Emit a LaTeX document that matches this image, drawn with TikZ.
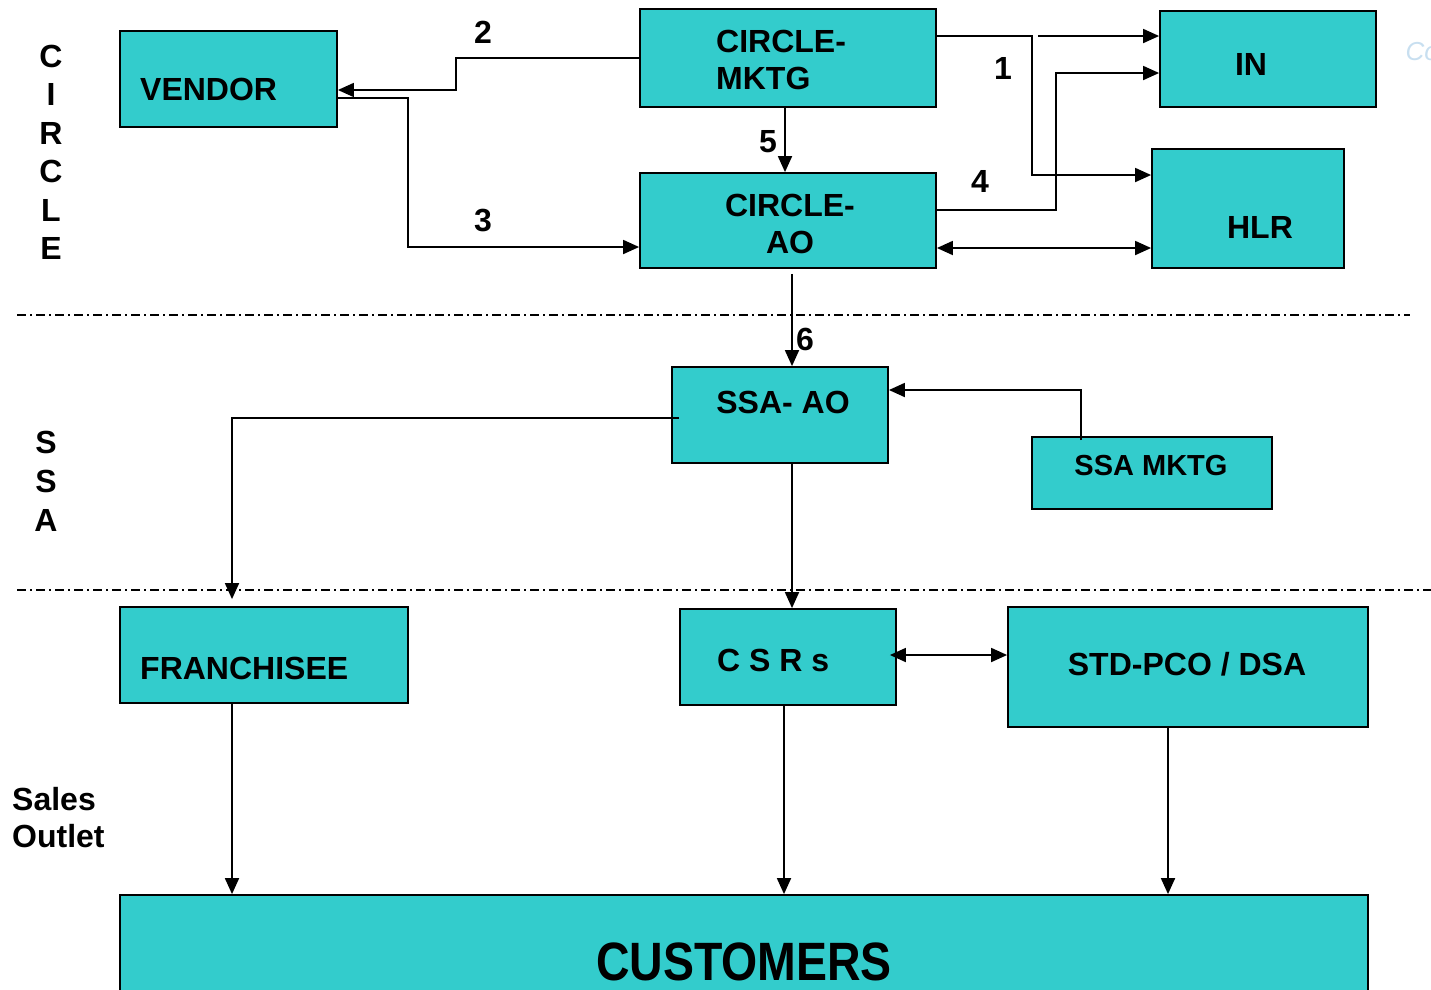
\documentclass[tikz,border=0pt]{standalone}
\usepackage{fontspec}
\setmainfont{Liberation Sans}
\usetikzlibrary{arrows.meta}
\definecolor{boxteal}{HTML}{33CCCC}
\definecolor{wmark}{HTML}{C8DFF0}

\begin{document}
\begin{tikzpicture}[x=1pt,y=-1pt,
    box/.style={draw, fill=boxteal, line width=1.8pt, inner sep=0pt},
    txt/.style={font=\bfseries\fontsize{32}{37}\selectfont, inner sep=0pt},
    arr/.style={line width=1.8pt, -{Triangle[length=16pt,width=14pt]}},
    dbl/.style={line width=1.8pt, {Triangle[length=16pt,width=14pt]}-{Triangle[length=16pt,width=14pt]}},
    sep/.style={line width=1.3pt, dash pattern=on 9pt off 4pt on 2pt off 4pt}]

  \useasboundingbox (0,0) rectangle (1431,989);

  % level separators
  \draw[sep] (17,315) -- (1410,315);
  \draw[sep] (17,590) -- (1431,590);

  \begin{scope}[every node/.style={box}]
    \node[minimum width=217pt,  minimum height=96pt]  (vendor)  at (228.5,79)  {};
    \node[minimum width=296pt,  minimum height=98pt]  (mktg)    at (788,58)    {};
    \node[minimum width=296pt,  minimum height=95pt]  (ao)      at (788,220.5) {};
    \node[minimum width=216pt,  minimum height=96pt]  (in)      at (1268,59)   {};
    \node[minimum width=192pt,  minimum height=119pt] (hlr)     at (1248,208.5){};
    \node[minimum width=216pt,  minimum height=96pt]  (ssaao)   at (780,415)   {};
    \node[minimum width=240pt,  minimum height=72pt]  (ssamktg) at (1152,473)  {};
    \node[minimum width=288pt,  minimum height=96pt]  (fran)    at (264,655)   {};
    \node[minimum width=216pt,  minimum height=96pt]  (csrs)    at (788,657)   {};
    \node[minimum width=360pt,  minimum height=120pt] (std)     at (1188,667)  {};
    \node[minimum width=1248pt, minimum height=145pt] (cust)    at (744,967.5) {};
  \end{scope}

  \begin{scope}[every node/.style={txt}]
    \node[anchor=base west] (vendor-t) at (140,100) {VENDOR};
    \node[anchor=west, align=left] (mktg-t) at (716,59.5) {CIRCLE-\\MKTG};
    \node[align=center] (ao-t) at (790,223.5) {CIRCLE-\\AO};
    \node[anchor=base] (in-t) at (1251,75.5) {IN};
    \node[anchor=base] (hlr-t) at (1260,238.5) {HLR};
    \node[anchor=base] (ssaao-t) at (783,413.5) {SSA- AO};
    \node[anchor=base, font=\bfseries\fontsize{29}{34}\selectfont] (ssamktg-t) at (1151,475.5) {SSA MKTG};
    \node[anchor=base west] (fran-t) at (140,679.5) {FRANCHISEE};
    \node[anchor=base west] (csrs-t) at (717,671.5) {C S R s};
    \node[anchor=base] (std-t) at (1187,675.5) {STD-PCO / DSA};
    \node[anchor=base, font=\bfseries\fontsize{54}{60}\selectfont] (cust-t) at (744,980) {\scalebox{0.86}[1]{CUSTOMERS}};

    % level names
    \foreach \l [count=\i] in {C,I,R,C,L,E}
      \node[anchor=base] (circ-\i) at (51,{67.5+38.4*(\i-1)}) {\l};
    \foreach \l [count=\i] in {S,S,A}
      \node[anchor=base] (ssa-\i) at (46,{453.5+39*(\i-1)}) {\l};
    \node[anchor=west, align=left] (outlet) at (12,818) {Sales\\Outlet};

    % step numbers
    \node[anchor=base] (n1) at (1003,79.5)  {1};
    \node[anchor=base] (n2) at (483,43.5)   {2};
    \node[anchor=base] (n3) at (483,231.5)  {3};
    \node[anchor=base] (n4) at (980,192.5)  {4};
    \node[anchor=base] (n5) at (768,152.5)  {5};
    \node[anchor=base] (n6) at (805,350.5)  {6};
  \end{scope}

  \node[anchor=west, text=wmark, font=\itshape\fontsize{26}{30}\selectfont] (mark) at (1402,52) {Co};

  % circle level
  \draw[arr] (mktg.west) -- (456,58) |- ([yshift=-11pt]vendor.east);
  \draw[arr] ([yshift=-19pt]vendor.east) -- (408,98) |- ([yshift=-26.5pt]ao.west);
  \draw[arr] ([yshift=22pt]mktg.east) -- (1032,36) |- ([yshift=33.5pt]hlr.west);
  \coordinate (split1) at (1038,36);
  \draw[arr] (split1) -- (in.west |- split1);
  \draw[arr] ([yshift=10.5pt]ao.east) -- (1056,210) |- ([yshift=-14pt]in.west);
  \draw[dbl] ([yshift=-27.5pt]ao.east) -- ([yshift=-27.5pt]ao.east -| hlr.west);
  \draw[arr] ([xshift=-3pt]mktg.south) -- ([xshift=-3pt]ao.north);

  % ssa level
  \draw[arr] ([xshift=4pt,yshift=-5pt]ao.south) -- ([xshift=12pt]ssaao.north);
  \draw[arr] ([xshift=-71pt,yshift=-4pt]ssamktg.north) |- ([yshift=25pt]ssaao.east);
  \draw[arr] ([xshift=8pt,yshift=-3pt]ssaao.west) -| ([xshift=-32pt,yshift=7pt]fran.north);
  \draw[arr] ([xshift=12pt]ssaao.south) -- ([xshift=4pt]csrs.north);

  % sales outlets
  \draw[dbl] ([xshift=-7pt,yshift=2pt]csrs.east) -- ([yshift=2pt]csrs.east -| std.west);
  \draw[arr] ([xshift=-32pt]fran.south) -- ([xshift=-32pt]fran.south |- cust.north);
  \draw[arr] ([xshift=-4pt]csrs.south) -- ([xshift=-4pt]csrs.south |- cust.north);
  \draw[arr] ([xshift=-20pt]std.south) -- ([xshift=-20pt]std.south |- cust.north);

\end{tikzpicture}
\end{document}
